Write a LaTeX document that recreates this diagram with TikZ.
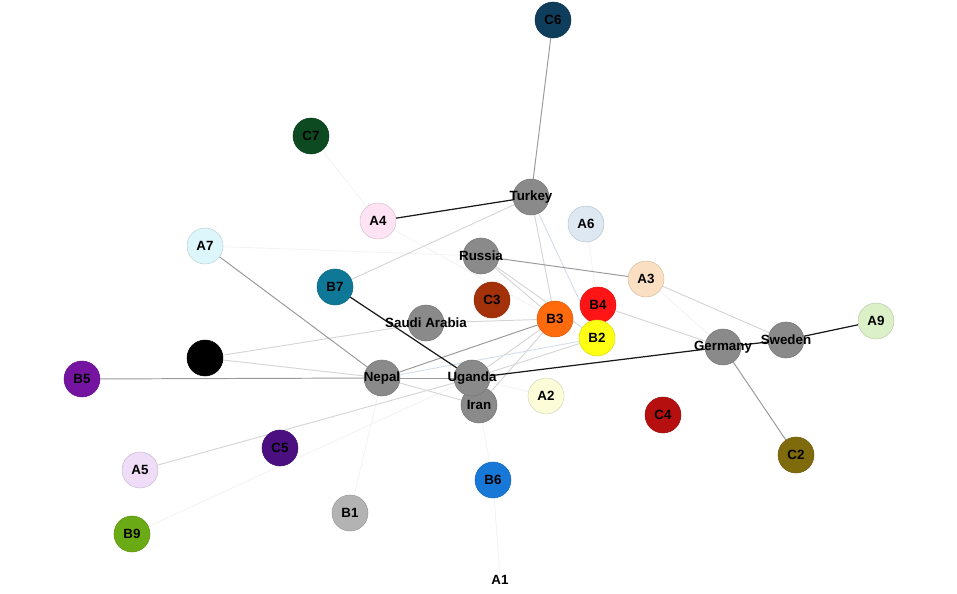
\documentclass[tikz,border=0pt]{standalone}
\usepackage{fontspec}
\setmainfont{Liberation Sans}
\pgfdeclarelayer{background}
\pgfsetlayers{background,main}
\definecolor{cgray}{HTML}{8A8A8A}
\definecolor{cC6}{HTML}{0F3D5C}
\definecolor{cC7}{HTML}{0D4A22}
\definecolor{cA4}{HTML}{FDE3F3}
\definecolor{cA6}{HTML}{DDE8F3}
\definecolor{cA7}{HTML}{DDF6FB}
\definecolor{cB7}{HTML}{0F7896}
\definecolor{cA3}{HTML}{FBDFC2}
\definecolor{cC3}{HTML}{A3310A}
\definecolor{cB4}{HTML}{FF1515}
\definecolor{cB3}{HTML}{FF6A0D}
\definecolor{cB2}{HTML}{FFFF14}
\definecolor{cA9}{HTML}{DCF0C8}
\definecolor{cB5}{HTML}{7414A0}
\definecolor{cA2}{HTML}{FCFCD8}
\definecolor{cC4}{HTML}{B50F0F}
\definecolor{cC5}{HTML}{4B0F80}
\definecolor{cC2}{HTML}{7F6A0C}
\definecolor{cA5}{HTML}{EFDCF7}
\definecolor{cB6}{HTML}{1878D8}
\definecolor{cB1}{HTML}{B3B3B3}
\definecolor{cB9}{HTML}{6AAA14}
\definecolor{emid}{HTML}{999999}
\definecolor{elight}{HTML}{D6D6D6}
\definecolor{eblue}{HTML}{D6DEEA}
\definecolor{efaint}{HTML}{F3F3F3}
\tikzset{
  lbl/.style={font=\fontsize{7.6}{9}\selectfont\bfseries, text=black, inner sep=0pt},
  vtx/.style={circle, minimum size=0.72cm, inner sep=0pt, fill=#1, draw=#1!85!black, line width=0.3pt},
  ek/.style={draw=black!90, line width=0.7pt},
  em/.style={draw=emid, line width=0.55pt},
  el/.style={draw=elight, line width=0.55pt},
  eb/.style={draw=eblue, line width=0.55pt},
  ef/.style={draw=efaint, line width=0.5pt}
}
\begin{document}
\begin{tikzpicture}[x=0.02cm,y=-0.02cm]
\useasboundingbox (0,0) rectangle (957,594);
% nodes
\node[vtx=cC6, label={[lbl]center:C6}] (C6) at (553,20) {};
\node[vtx=cC7, label={[lbl]center:C7}] (C7) at (311,136) {};
\node[vtx=cgray, label={[lbl]center:Turkey}] (turkey) at (531,197) {};
\node[vtx=cA4, label={[lbl]center:A4}] (A4) at (378,221) {};
\node[vtx=cA6, label={[lbl]center:A6}] (A6) at (586,224) {};
\node[vtx=cA7, label={[lbl]center:A7}] (A7) at (205,246) {};
\node[vtx=cgray, label={[lbl]center:Russia}] (russia) at (481,256) {};
\node[vtx=cB7, label={[lbl]center:B7}] (B7) at (335,287) {};
\node[vtx=cA3, label={[lbl]center:A3}] (A3) at (646,279) {};
\node[vtx=cC3, label={[lbl]center:C3}] (C3) at (492,300) {};
\node[vtx=cgray, label={[lbl]center:Saudi Arabia}] (saudi) at (426,323) {};
\node[vtx=cB4, label={[lbl]center:B4}] (B4) at (598,305) {};
\node[vtx=cB3, label={[lbl]center:B3}] (B3) at (555,319) {};
\node[vtx=cB2, label={[lbl]center:B2}] (B2) at (597,338) {};
\node[vtx=cA9, label={[lbl]center:A9}] (A9) at (876,321) {};
\node[vtx=cgray, label={[lbl]center:Sweden}] (sweden) at (786,340) {};
\node[vtx=cgray, label={[lbl]center:Germany}] (germany) at (723,347) {};
\node[vtx=black] (blk) at (205,358) {};
\node[vtx=cB5, label={[lbl]center:B5}] (B5) at (82,379) {};
\node[vtx=cgray, label={[lbl]center:Nepal}] (nepal) at (382,378) {};
\node[vtx=cgray, label={[lbl]center:Iran}] (iran) at (479,405) {};
\node[vtx=cgray, label={[lbl]center:Uganda}] (uganda) at (472,378) {};
\node[vtx=cA2, label={[lbl]center:A2}] (A2) at (546,396) {};
\node[vtx=cC4, label={[lbl]center:C4}] (C4) at (663,415) {};
\node[vtx=cC5, label={[lbl]center:C5}] (C5) at (280,448) {};
\node[vtx=cC2, label={[lbl]center:C2}] (C2) at (796,455) {};
\node[vtx=cA5, label={[lbl]center:A5}] (A5) at (140,470) {};
\node[vtx=cB6, label={[lbl]center:B6}] (B6) at (493,480) {};
\node[vtx=cB1, label={[lbl]center:B1}] (B1) at (350,513) {};
\node[vtx=cB9, label={[lbl]center:B9}] (B9) at (132,534) {};
\node[lbl] (A1) at (500,580) {A1};
% edges
\begin{pgfonlayer}{background}
\draw[ef] (C7) -- (A4);
\draw[ef] (A4) -- (B3);
\draw[ef] (A7) -- (russia);
\draw[ef] (B1) -- (nepal);
\draw[ef] (B6) -- (iran);
\draw[ef] (B6) -- (A1);
\draw[ef] (B9) -- (uganda);
\draw[ef] (A3) -- (germany);
\draw[ef] (A2) -- (uganda);
\draw[ef] (A6) -- (B4);
\draw[el] (turkey) -- (B7);
\draw[el] (turkey) -- (B3);
\draw[eb] (turkey) -- (B2);
\draw[el] (russia) -- (B3);
\draw[el] (russia) -- (B2);
\draw[el] (blk) -- (saudi);
\draw[el] (blk) -- (nepal);
\draw[el] (A5) -- (uganda);
\draw[el] (B4) -- (germany);
\draw[el] (A3) -- (sweden);
\draw[el] (saudi) -- (B3);
\draw[el] (uganda) -- (B3);
\draw[el] (iran) -- (B3);
\draw[eb] (nepal) -- (B2);
\draw[el] (uganda) -- (B2);
\draw[el] (nepal) -- (iran);
\draw[em] (C6) -- (turkey);
\draw[em] (A7) -- (nepal);
\draw[em] (B5) -- (nepal);
\draw[em] (germany) -- (C2);
\draw[em] (russia) -- (A3);
\draw[em] (nepal) -- (uganda);
\draw[em] (nepal) -- (B3);
\draw[ek] (A4) -- (turkey);
\draw[ek] (B7) -- (uganda);
\draw[ek] (uganda) -- (germany);
\draw[ek] (germany) -- (sweden);
\draw[ek] (sweden) -- (A9);
\end{pgfonlayer}
\end{tikzpicture}
\end{document}
